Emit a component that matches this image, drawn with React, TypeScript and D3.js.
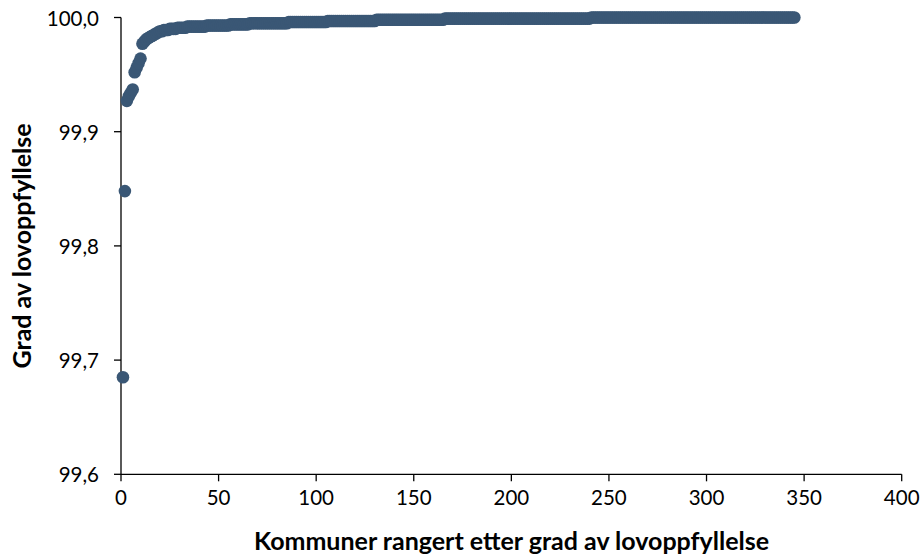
import React from "react";
import * as d3 from "d3";

const WIDTH = 921;
const HEIGHT = 559;

const xTicks: number[] = [0, 50, 100, 150, 200, 250, 300, 350, 400];
const yTicks: number[] = [99.6, 99.7, 99.8, 99.9, 100.0];

const xTitle = "Kommuner rangert etter grad av lovoppfyllelse";
const yTitle = "Grad av lovoppfyllelse";

// Grad av lovoppfyllelse per kommune, sortert stigende (rang 1..345)
const values: number[] = [
  99.685, 99.848, 99.927, 99.931, 99.934, 99.937, 99.952, 99.956, 99.960, 99.964,
  99.977, 99.979, 99.981, 99.982, 99.983, 99.984, 99.985, 99.986, 99.987, 99.988,
  99.988, 99.989, 99.989, 99.989, 99.990, 99.990, 99.990, 99.990, 99.991, 99.991,
  99.991, 99.991, 99.991, 99.992, 99.992, 99.992, 99.992, 99.992, 99.992, 99.992,
  99.992, 99.992, 99.992, 99.993, 99.993, 99.993, 99.993, 99.993, 99.993, 99.993,
  99.993, 99.993, 99.993, 99.993, 99.993, 99.994, 99.994, 99.994, 99.994, 99.994,
  99.994, 99.994, 99.994, 99.994, 99.994, 99.995, 99.995, 99.995, 99.995, 99.995,
  99.995, 99.995, 99.995, 99.995, 99.995, 99.995, 99.995, 99.995, 99.995, 99.995,
  99.995, 99.995, 99.995, 99.995, 99.995, 99.996, 99.996, 99.996, 99.996, 99.996,
  99.996, 99.996, 99.996, 99.996, 99.996, 99.996, 99.996, 99.996, 99.996, 99.996,
  99.996, 99.996, 99.996, 99.996, 99.996, 99.997, 99.997, 99.997, 99.997, 99.997,
  99.997, 99.997, 99.997, 99.997, 99.997, 99.997, 99.997, 99.997, 99.997, 99.997,
  99.997, 99.997, 99.997, 99.997, 99.997, 99.997, 99.997, 99.997, 99.997, 99.997,
  99.998, 99.998, 99.998, 99.998, 99.998, 99.998, 99.998, 99.998, 99.998, 99.998,
  99.998, 99.998, 99.998, 99.998, 99.998, 99.998, 99.998, 99.998, 99.998, 99.998,
  99.998, 99.998, 99.998, 99.998, 99.998, 99.998, 99.998, 99.998, 99.998, 99.998,
  99.998, 99.998, 99.998, 99.998, 99.998, 99.999, 99.999, 99.999, 99.999, 99.999,
  99.999, 99.999, 99.999, 99.999, 99.999, 99.999, 99.999, 99.999, 99.999, 99.999,
  99.999, 99.999, 99.999, 99.999, 99.999, 99.999, 99.999, 99.999, 99.999, 99.999,
  99.999, 99.999, 99.999, 99.999, 99.999, 99.999, 99.999, 99.999, 99.999, 99.999,
  99.999, 99.999, 99.999, 99.999, 99.999, 99.999, 99.999, 99.999, 99.999, 99.999,
  99.999, 99.999, 99.999, 99.999, 99.999, 99.999, 99.999, 99.999, 99.999, 99.999,
  99.999, 99.999, 99.999, 99.999, 99.999, 99.999, 99.999, 99.999, 99.999, 99.999,
  99.999, 99.999, 99.999, 99.999, 99.999, 99.999, 99.999, 99.999, 99.999, 99.999,
  100.0, 100.0, 100.0, 100.0, 100.0, 100.0, 100.0, 100.0, 100.0, 100.0,
  100.0, 100.0, 100.0, 100.0, 100.0, 100.0, 100.0, 100.0, 100.0, 100.0,
  100.0, 100.0, 100.0, 100.0, 100.0, 100.0, 100.0, 100.0, 100.0, 100.0,
  100.0, 100.0, 100.0, 100.0, 100.0, 100.0, 100.0, 100.0, 100.0, 100.0,
  100.0, 100.0, 100.0, 100.0, 100.0, 100.0, 100.0, 100.0, 100.0, 100.0,
  100.0, 100.0, 100.0, 100.0, 100.0, 100.0, 100.0, 100.0, 100.0, 100.0,
  100.0, 100.0, 100.0, 100.0, 100.0, 100.0, 100.0, 100.0, 100.0, 100.0,
  100.0, 100.0, 100.0, 100.0, 100.0, 100.0, 100.0, 100.0, 100.0, 100.0,
  100.0, 100.0, 100.0, 100.0, 100.0, 100.0, 100.0, 100.0, 100.0, 100.0,
  100.0, 100.0, 100.0, 100.0, 100.0, 100.0, 100.0, 100.0, 100.0, 100.0,
  100.0, 100.0, 100.0, 100.0, 100.0,
];

const FONT = "Lato, 'Open Sans', sans-serif";
const POINT_COLOR = "#3a5775";

export default function App() {
  const x = d3.scaleLinear().domain([0, 400]).range([121, 901.7]);
  const y = d3.scaleLinear().domain([99.6, 100.0]).range([474.3, 17.5]);
  const fmt = (v: number) => d3.format(".1f")(v).replace(".", ",");
  const tickLen = 7;
  const axisColor = "#000";

  return (
    <svg
      width={WIDTH}
      height={HEIGHT}
      style={{ position: "absolute", left: 0, top: 0, background: "#fff" }}
      fontFamily={FONT}
    >
      {/* axes */}
      <line x1={x(0)} x2={x(0)} y1={y(100)} y2={y(99.6)} stroke={axisColor} strokeWidth={1.3} />
      <line x1={x(0)} x2={x(400)} y1={y(99.6)} y2={y(99.6)} stroke={axisColor} strokeWidth={1.3} />
      {yTicks.map((t) => (
        <g key={"y" + t}>
          <line x1={x(0) - tickLen} x2={x(0)} y1={y(t)} y2={y(t)} stroke={axisColor} strokeWidth={1.3} />
          <text x={99} y={y(t) + 8} textAnchor="end" fontSize={20.5} fill="#000">
            {fmt(t)}
          </text>
        </g>
      ))}
      {xTicks.map((t) => (
        <g key={"x" + t}>
          <line x1={x(t)} x2={x(t)} y1={y(99.6)} y2={y(99.6) + tickLen} stroke={axisColor} strokeWidth={1.3} />
          <text x={x(t)} y={505} textAnchor="middle" fontSize={20.5} fill="#000">
            {t}
          </text>
        </g>
      ))}
      {/* points */}
      {values.map((v, i) => (
        <circle key={i} cx={x(i + 1)} cy={y(v)} r={6.3} fill={POINT_COLOR} />
      ))}
      {/* titles */}
      <text x={(253 + 770) / 2} y={550} textAnchor="middle" fontSize={25} fontWeight="bold" fill="#000">
        {xTitle}
      </text>
      <text
        transform={`translate(31, ${(y(100) + y(99.6)) / 2}) rotate(-90)`}
        textAnchor="middle"
        fontSize={25}
        fontWeight="bold"
        fill="#000"
      >
        {yTitle}
      </text>
    </svg>
  );
}
